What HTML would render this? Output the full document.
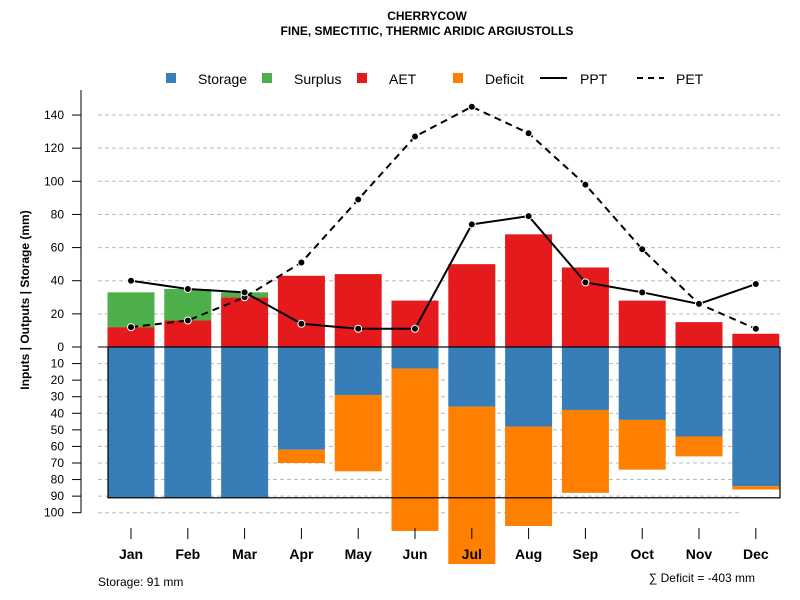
<!DOCTYPE html>
<html><head><meta charset="utf-8"><style>
body{margin:0;background:#fff}
svg{display:block;font-family:"Liberation Sans",Arial,sans-serif}
</style></head><body>
<svg id="chart" width="800" height="600" viewBox="0 0 800 600">
<text x="427" y="20" text-anchor="middle" font-size="12" font-weight="bold">CHERRYCOW</text>
<text x="427" y="35" text-anchor="middle" font-size="12" font-weight="bold">FINE, SMECTITIC, THERMIC ARIDIC ARGIUSTOLLS</text>
<g font-size="14">
<g><rect x="166" y="73" width="10" height="10" fill="#377eb8"/><text x="198" y="84">Storage</text></g>
<g><rect x="262" y="73" width="10" height="10" fill="#4daf4a"/><text x="294" y="84">Surplus</text></g>
<g><rect x="357" y="73" width="10" height="10" fill="#e41a1c"/><text x="389" y="84">AET</text></g>
<g><rect x="453" y="73" width="10" height="10" fill="#ff7f00"/><text x="485" y="84">Deficit</text></g>
<g><line x1="540" y1="78" x2="567" y2="78" stroke="#000" stroke-width="2"/><text x="580" y="84">PPT</text></g>
<g><line x1="637" y1="78" x2="664" y2="78" stroke="#000" stroke-width="2" stroke-dasharray="6,5"/><text x="676" y="84">PET</text></g>
</g>
<g id="grid"></g>
<g id="bars"></g>
<g id="axes"></g>
<g id="lines"></g>
<text transform="translate(29,300) rotate(-90)" text-anchor="middle" font-size="12" font-weight="bold">Inputs | Outputs | Storage    (mm)</text>
<text x="98" y="586" font-size="12">Storage: 91 mm</text>
<text x="755" y="582" text-anchor="end" font-size="12">∑ Deficit = -403 mm</text>
</svg>
<script>
const months=["Jan","Feb","Mar","Apr","May","Jun","Jul","Aug","Sep","Oct","Nov","Dec"];
const aet=[12,16,30,43,44,28,50,68,48,28,15,8];
const surplus=[21,19,3,0,0,0,0,0,0,0,0,0];
const storage=[91,91,91,62,29,13,36,48,38,44,54,84];
const deficit=[0,0,0,8,46,98,95,60,50,30,12,2];
const ppt=[40,35,33,14,11,11,74,79,39,33,26,38];
const pet=[12,16,30,51,89,127,145,129,98,59,26,11];
const posTicks=[0,20,40,60,80,100,120,140];
const negTicks=[10,20,30,40,50,60,70,80,90,100];
const storageCap=91;
const NS="http://www.w3.org/2000/svg";
const y0=347,k=1.657;
const yUp=v=>y0-v*k, yDn=v=>y0+v*k;
const xc=i=>131+i*56.8, bw=47;
function mk(t,a,p){const e=document.createElementNS(NS,t);for(const n in a)e.setAttribute(n,a[n]);p.appendChild(e);return e;}
const G=document.getElementById('grid'),B=document.getElementById('bars'),A=document.getElementById('axes'),L=document.getElementById('lines');
posTicks.forEach(v=>{if(v>0){const l=mk('line',{x1:98,x2:780,y1:yUp(v),y2:yUp(v),stroke:'#bbb','stroke-dasharray':'4,3'},G);

}});
negTicks.forEach(v=>{const l=mk('line',{x1:98,x2:740,y1:yDn(v),y2:yDn(v),stroke:'#bbb','stroke-dasharray':'4,3'},G);

});
months.forEach((m,i)=>{
 const x=xc(i)-bw/2;
 let r=mk('rect',{x:x,y:yUp(aet[i]),width:bw,height:aet[i]*k,fill:'#e41a1c'},B);
 
 
 if(surplus[i]>0){r=mk('rect',{x:x,y:yUp(aet[i]+surplus[i]),width:bw,height:surplus[i]*k,fill:'#4daf4a'},B);
 
 }
 r=mk('rect',{x:x,y:y0,width:bw,height:storage[i]*k,fill:'#377eb8'},B);
 
 
 if(deficit[i]>0){r=mk('rect',{x:x,y:yDn(storage[i]),width:bw,height:deficit[i]*k,fill:'#ff7f00'},B);
 
 }
 const t=mk('line',{x1:xc(i),x2:xc(i),y1:528,y2:539,stroke:'#000'},A);
 
 
 const tx=mk('text',{x:xc(i),y:559,'text-anchor':'middle','font-size':14,'font-weight':'bold'},A);tx.textContent=m;
 
 
});
const box=mk('rect',{x:108,y:y0,width:672,height:storageCap*k,fill:'none',stroke:'#000','stroke-width':1.2},A);


const zl=mk('line',{x1:98,x2:780,y1:y0,y2:y0,stroke:'#000','stroke-width':1},A);


const ax=mk('line',{x1:81,x2:81,y1:90,y2:yDn(100),stroke:'#555','stroke-width':1.5},A);


function tick(y,lab){const l=mk('line',{x1:72,x2:81,y1:y,y2:y,stroke:'#000'},A);


const t=mk('text',{x:64,y:y+4,'text-anchor':'end','font-size':12},A);t.textContent=lab;

}
posTicks.forEach(v=>tick(yUp(v),v));
negTicks.forEach(v=>tick(yDn(v),v));
function series(vals,dash,name){
 const p=mk('polyline',{points:vals.map((v,i)=>xc(i)+','+yUp(v)).join(' '),fill:'none',stroke:'#000','stroke-width':2,'stroke-dasharray':dash},L);
 
 
 vals.forEach((v,i)=>{const c=mk('circle',{cx:xc(i),cy:yUp(v),r:3.5,fill:'#000',stroke:'#fff','stroke-width':1},L);
 
 });
}
series(pet,'7,5','pet');
series(ppt,'none','ppt');
</script>
</body></html>
